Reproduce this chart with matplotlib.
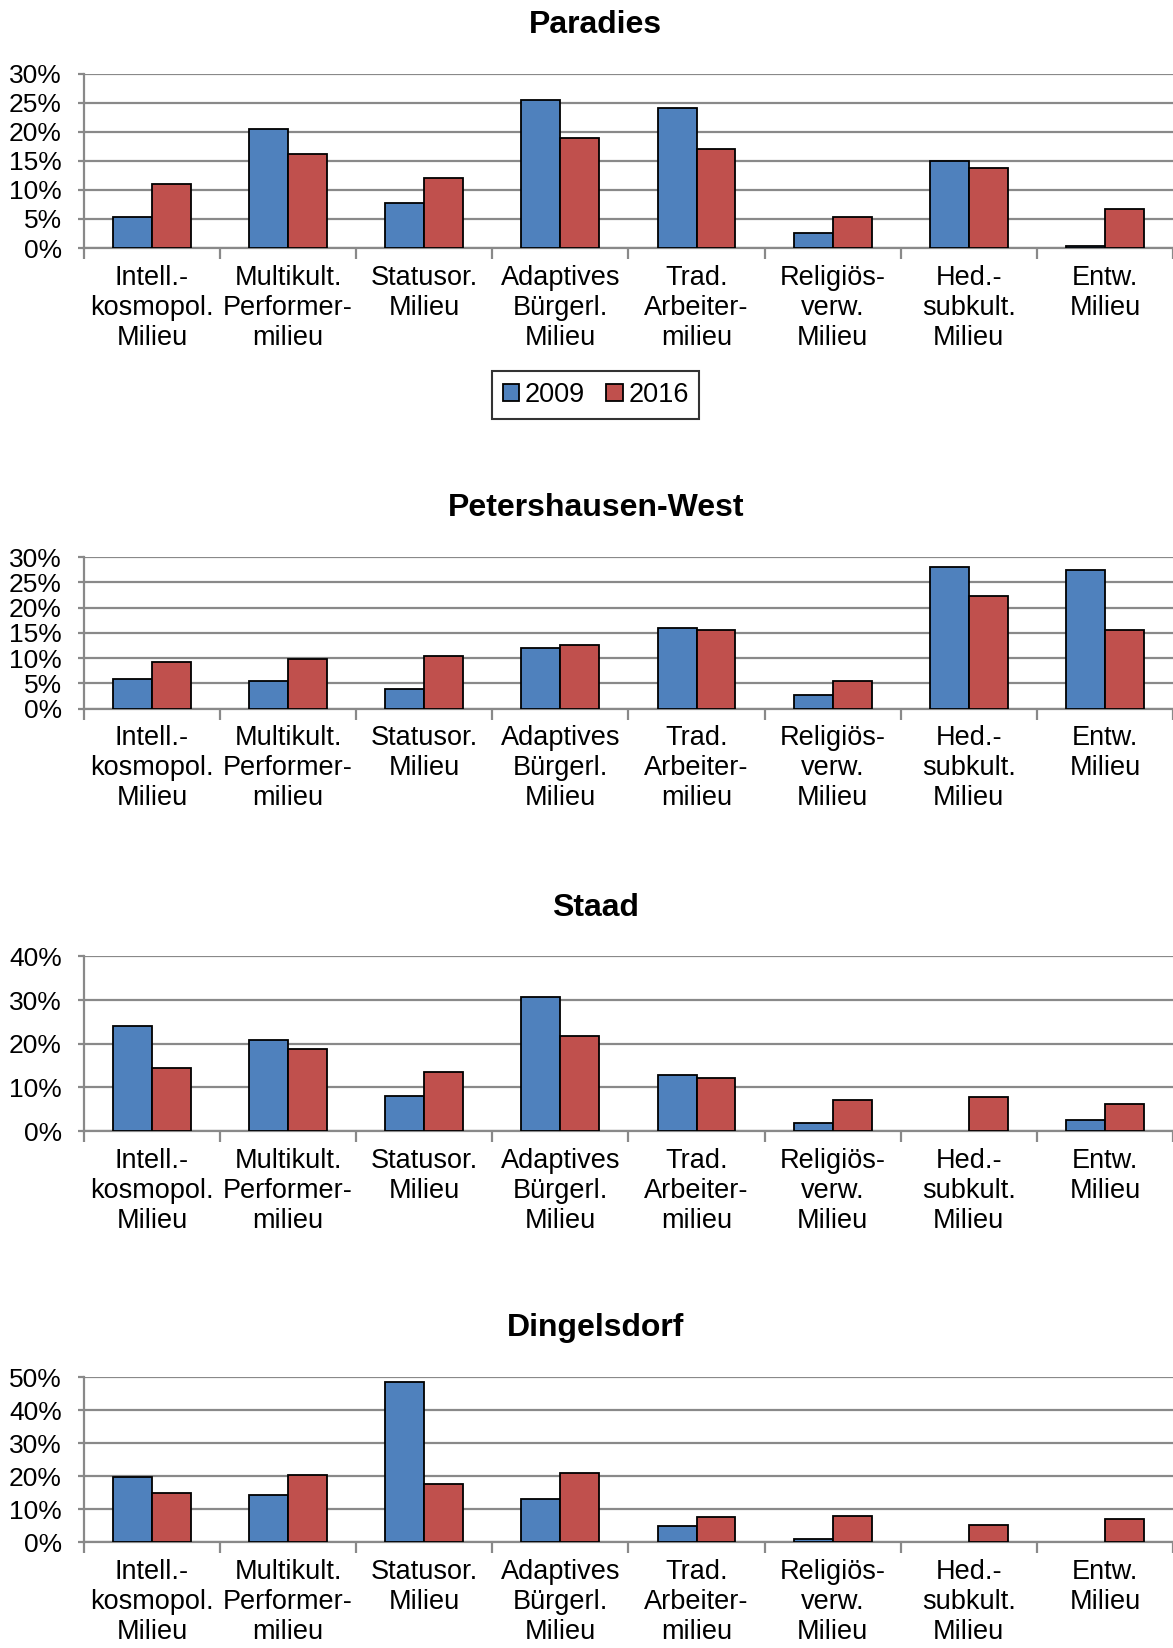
import numpy as np
import matplotlib.pyplot as plt
from matplotlib.ticker import FuncFormatter, MultipleLocator

plt.rcParams['font.family'] = ['Liberation Sans', 'DejaVu Sans']

# Categories (Milieus)
categories = ['Intell.-\nkosmopol.\nMilieu', 'Multikult.\nPerformer-\nmilieu',
              'Statusor.\nMilieu', 'Adaptives\nBürgerl.\nMilieu',
              'Trad.\nArbeiter-\nmilieu', 'Religiös-\nverw.\nMilieu',
              'Hed.-\nsubkult.\nMilieu', 'Entw.\nMilieu']

# Shares in percent
paradies_2009 = [5.4, 20.5, 7.7, 25.4, 24.1, 2.5, 14.9, 0.4]
paradies_2016 = [11.0, 16.2, 12.0, 18.9, 17.0, 5.4, 13.8, 6.7]

petershausen_2009 = [5.8, 5.4, 3.9, 11.9, 15.9, 2.7, 28.0, 27.4]
petershausen_2016 = [9.2, 9.8, 10.5, 12.5, 15.5, 5.4, 22.3, 15.6]

staad_2009 = [24.1, 20.9, 8.1, 30.8, 12.9, 1.9, 0.0, 2.5]
staad_2016 = [14.4, 18.8, 13.5, 21.8, 12.1, 7.0, 7.7, 6.3]

dingelsdorf_2009 = [19.6, 14.2, 48.6, 12.9, 5.0, 0.9, 0.0, 0.0]
dingelsdorf_2016 = [15.0, 20.2, 17.7, 20.8, 7.6, 8.0, 5.3, 7.1]

titles = ['Paradies', 'Petershausen-West', 'Staad', 'Dingelsdorf']
ymax = [30, 30, 40, 50]
ystep = [5, 5, 10, 10]
series = [(paradies_2009, paradies_2016),
          (petershausen_2009, petershausen_2016),
          (staad_2009, staad_2016),
          (dingelsdorf_2009, dingelsdorf_2016)]

# axes positions [left, bottom, width, height] in figure fraction
boxes = [[0.0716, 0.8495, 0.9284, 0.1058],
         [0.0716, 0.5700, 0.9284, 0.0920],
         [0.0716, 0.3137, 0.9284, 0.1059],
         [0.0716, 0.0643, 0.9284, 0.1001]]

blue = '#4F81BD'
red = '#C0504D'
grid_c = '#898989'

fig = plt.figure(figsize=(11.73, 16.48), dpi=100)
x = np.arange(len(categories))
w = 0.286

for i in range(4):
    ax = fig.add_axes(boxes[i])
    v09, v16 = series[i]
    # no outline for empty bars (Excel draws nothing there)
    e09 = ['black' if v > 0 else 'none' for v in v09]
    e16 = ['black' if v > 0 else 'none' for v in v16]
    ax.bar(x - w / 2, v09, w, color=blue, edgecolor=e09, linewidth=1.3, zorder=3, label='2009')
    ax.bar(x + w / 2, v16, w, color=red, edgecolor=e16, linewidth=1.3, zorder=3, label='2016')
    ax.set_xlim(-0.5, len(categories) - 0.5)
    ax.set_ylim(0, ymax[i])
    ax.yaxis.set_major_locator(MultipleLocator(ystep[i]))
    ax.yaxis.set_major_formatter(FuncFormatter(lambda v, p: '%d%%' % v))
    ax.grid(axis='y', color=grid_c, linewidth=1.6, zorder=0)
    for s in ['top', 'right']:
        ax.spines[s].set_visible(False)
    for s in ['left', 'bottom']:
        ax.spines[s].set_color(grid_c)
        ax.spines[s].set_linewidth(1.6)
    ax.set_xticks(x)
    ax.set_xticklabels(categories, fontsize=19.5, linespacing=1.2)
    ax.set_xticks(np.arange(len(categories) + 1) - 0.5, minor=True)
    ax.tick_params(axis='x', which='major', length=0, pad=12)
    ax.tick_params(axis='x', which='minor', length=8, width=1.6, color=grid_c, direction='out')
    ax.tick_params(axis='y', length=4, width=1.6, color=grid_c, labelsize=19, pad=12)
    ax.set_title(titles[i], fontsize=23, fontweight='bold', pad=29.5, x=0.47)
    if i == 0:
        leg = ax.legend(loc='center', bbox_to_anchor=(0.47, -0.843), ncol=2, fontsize=19.5,
                        frameon=True, fancybox=False, edgecolor='black',
                        handlelength=0.6, handleheight=0.6, handletextpad=0.2,
                        columnspacing=0.8, borderpad=0.4)
        leg.get_frame().set_linewidth(1.5)

fig.savefig('out.png', dpi=100)
